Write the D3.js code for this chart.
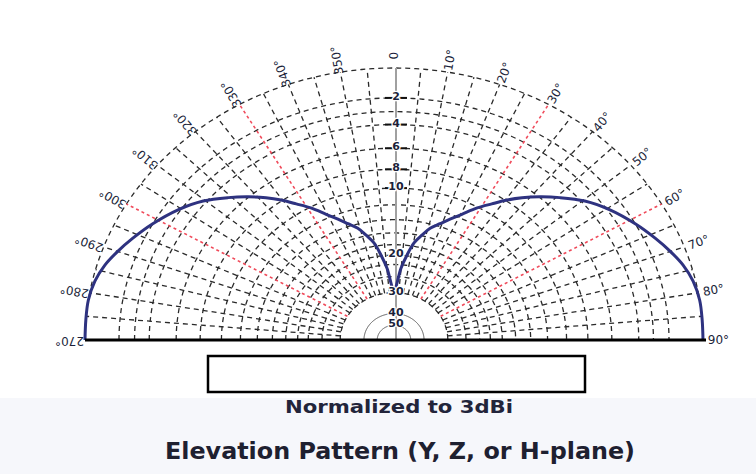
<!DOCTYPE html>
<html>
<head>
<meta charset="utf-8">
<script src="https://cdn.jsdelivr.net/npm/d3@7"></script>
<style>
  html, body { margin: 0; padding: 0; background: #ffffff; }
  svg { display: block; }
</style>
</head>
<body>
<div id="chart"></div>
<script>
// pattern: angle from zenith (deg) and level (dB), right half; left half mirrors it
const patternAngles = [0, 4.9, 7.7, 10.3, 13.2, 15.9, 19.2, 22.2, 25.4, 29, 32.3, 35.4, 38.4, 41.9, 45.7, 50.4, 55.6, 61.3, 66.1, 69.9, 73.6, 77.4, 81.6, 85.8, 90];
const patternDb = [-29, -22.8, -19.8, -17.4, -15.9, -14.6, -13.6, -12.6, -11.5, -10.1, -9, -7.9, -6.95, -5.95, -4.95, -3.8, -2.85, -2.0, -1.35, -0.86, -0.43, -0.14, 0, 0, 0];

// grid rings (dB) and labelled levels down the centre
const ringDb = [0, -2, -3, -4, -6, -8, -10, -12, -14, -16, -18, -20, -22, -25, -30];
const innerDb = [-40, -50];
const levelTicks = [-2, -4, -6, -8, -10, -20, -30, -40, -50];
const levelLabels = ["2", "4", "6", "8", "10", "20", "30", "40", "50"];

// angle labels round the rim
const angleTicks = [-90, -80, -70, -60, -50, -40, -30, -20, -10, 0, 10, 20, 30, 40, 50, 60, 70, 80, 90];
const angleLabels = ["270°", "280°", "290°", "300°", "310°", "320°", "330°", "340°", "350°", "0", "10°", "20°", "30°", "40°", "50°", "60°", "70°", "80°", "90°"];
const redAngles = [-60, -30, 30, 60];

const W = 756, H = 474;
const cx = 394, cy = 340, rx = 309, ry = 272;

const svg = d3.select("#chart").append("svg")
    .attr("width", W).attr("height", H);

svg.append("rect").attr("x", 0).attr("y", 398).attr("width", W).attr("height", H - 398)
    .attr("fill", "#f6f7fb");

// x/y scales on unit coordinates, radial on the ARRL log scale (0.89 per 2 dB)
const x = d3.scaleLinear().domain([-1, 1]).range([cx - rx, cx + rx]);
const y = d3.scaleLinear().domain([0, 1]).range([cy, cy - ry]);
const r = d3.scaleLinear().domain([0, -2]).range([0, 1]);   // steps of 2 dB
const frac = db => Math.pow(0.89, r(db));

const px = (deg, db) => x(frac(db) * Math.sin(deg * Math.PI / 180));
const py = (deg, db) => y(frac(db) * Math.cos(deg * Math.PI / 180));

const arcLine = db => d3.line()
    .x(a => px(a, db)).y(a => py(a, db))(d3.range(-90, 90.5, 1));

const grid = svg.append("g");

// rings
grid.selectAll(".ring").data(ringDb).enter().append("path")
    .attr("d", d => arcLine(d))
    .attr("fill", "none")
    .attr("stroke", "#2a2a2a")
    .attr("stroke-width", 1.3)
    .attr("stroke-dasharray", "5,4");

grid.selectAll(".inner").data(innerDb).enter().append("path")
    .attr("d", d => arcLine(d))
    .attr("fill", "none")
    .attr("stroke", "#555")
    .attr("stroke-width", 1);

// radial lines every 5 degrees
const spokes = d3.range(-85, 86, 5).filter(a => a !== 0 && redAngles.indexOf(a) < 0);
grid.selectAll(".spoke").data(spokes).enter().append("line")
    .attr("x1", a => px(a, -30)).attr("y1", a => py(a, -30))
    .attr("x2", a => px(a, 0)).attr("y2", a => py(a, 0))
    .attr("stroke", "#2a2a2a")
    .attr("stroke-width", 1.3)
    .attr("stroke-dasharray", "5,4");

grid.selectAll(".red").data(redAngles).enter().append("line")
    .attr("x1", a => px(a, -30)).attr("y1", a => py(a, -30))
    .attr("x2", a => px(a, 0)).attr("y2", a => py(a, 0))
    .attr("stroke", "#f04a5a")
    .attr("stroke-width", 1.6)
    .attr("stroke-dasharray", "3,3");

// centre axis
grid.append("line")
    .attr("x1", px(0, 0) + 2).attr("y1", py(0, 0))
    .attr("x2", px(0, 0) + 2).attr("y2", cy)
    .attr("stroke", "#a0a0a0")
    .attr("stroke-width", 2);

grid.selectAll(".tick").data(levelTicks.slice(0, 5)).enter().append("line")
    .attr("x1", px(0, 0) - 9).attr("x2", px(0, 0) + 13)
    .attr("y1", d => py(0, d)).attr("y2", d => py(0, d))
    .attr("stroke", "#111")
    .attr("stroke-width", 2);

// the pattern
const right = patternAngles.map((a, i) => [a, patternDb[i]]);
const left = right.slice().reverse().map(p => [-p[0], p[1]]);
const pts = left.concat(right.slice(1));

svg.append("path")
    .attr("d", d3.line().curve(d3.curveCatmullRom)
        .x(p => px(p[0], p[1])).y(p => py(p[0], p[1]))(pts))
    .attr("fill", "none")
    .attr("stroke", "#2e3280")
    .attr("stroke-width", 3);

// level labels
svg.selectAll(".lvl").data(levelTicks).enter().append("text")
    .attr("x", px(0, 0) + 2)
    .attr("y", d => py(0, d) - 1)
    .attr("text-anchor", "middle")
    .attr("dominant-baseline", "middle")
    .attr("font-family", "DejaVu Sans, sans-serif")
    .attr("font-size", 11)
    .attr("font-weight", "bold")
    .attr("fill", "#1b1f3a")
    .attr("stroke", "#fff").attr("stroke-width", 2.5).attr("paint-order", "stroke")
    .text((d, i) => levelLabels[i]);

// angle labels round the rim
svg.selectAll(".ang").data(angleTicks).enter().append("text")
    .attr("transform", a => {
        const lx = x(1.05 * Math.sin(a * Math.PI / 180));
        const ly = y(1.045 * Math.cos(a * Math.PI / 180));
        return `translate(${lx},${ly}) rotate(${a - 90})`;
    })
    .attr("text-anchor", "middle")
    .attr("dominant-baseline", "middle")
    .attr("font-family", "DejaVu Sans, sans-serif")
    .attr("font-size", 12)
    .attr("fill", "#1b1f3a")
    .text((a, i) => angleLabels[i]);

// base line
svg.append("line")
    .attr("x1", x(-1)).attr("x2", x(1) + 3)
    .attr("y1", cy).attr("y2", cy)
    .attr("stroke", "#000")
    .attr("stroke-width", 3);

// empty box and captions
svg.append("rect")
    .attr("x", 208).attr("y", 356).attr("width", 377).attr("height", 36)
    .attr("fill", "#fff").attr("stroke", "#000").attr("stroke-width", 2.5);

svg.append("text")
    .attr("x", 399).attr("y", 413)
    .attr("text-anchor", "middle")
    .attr("font-family", "DejaVu Sans, sans-serif")
    .attr("font-size", 17)
    .attr("font-weight", "bold")
    .attr("fill", "#22243a")
    .attr("textLength", 228).attr("lengthAdjust", "spacingAndGlyphs")
    .text("Normalized to 3dBi");

svg.append("text")
    .attr("x", 400).attr("y", 459)
    .attr("text-anchor", "middle")
    .attr("font-family", "DejaVu Sans, sans-serif")
    .attr("font-size", 23)
    .attr("font-weight", "bold")
    .attr("fill", "#1e2030")
    .attr("textLength", 470).attr("lengthAdjust", "spacingAndGlyphs")
    .text("Elevation Pattern (Y, Z, or H-plane)");
</script>
</body>
</html>
